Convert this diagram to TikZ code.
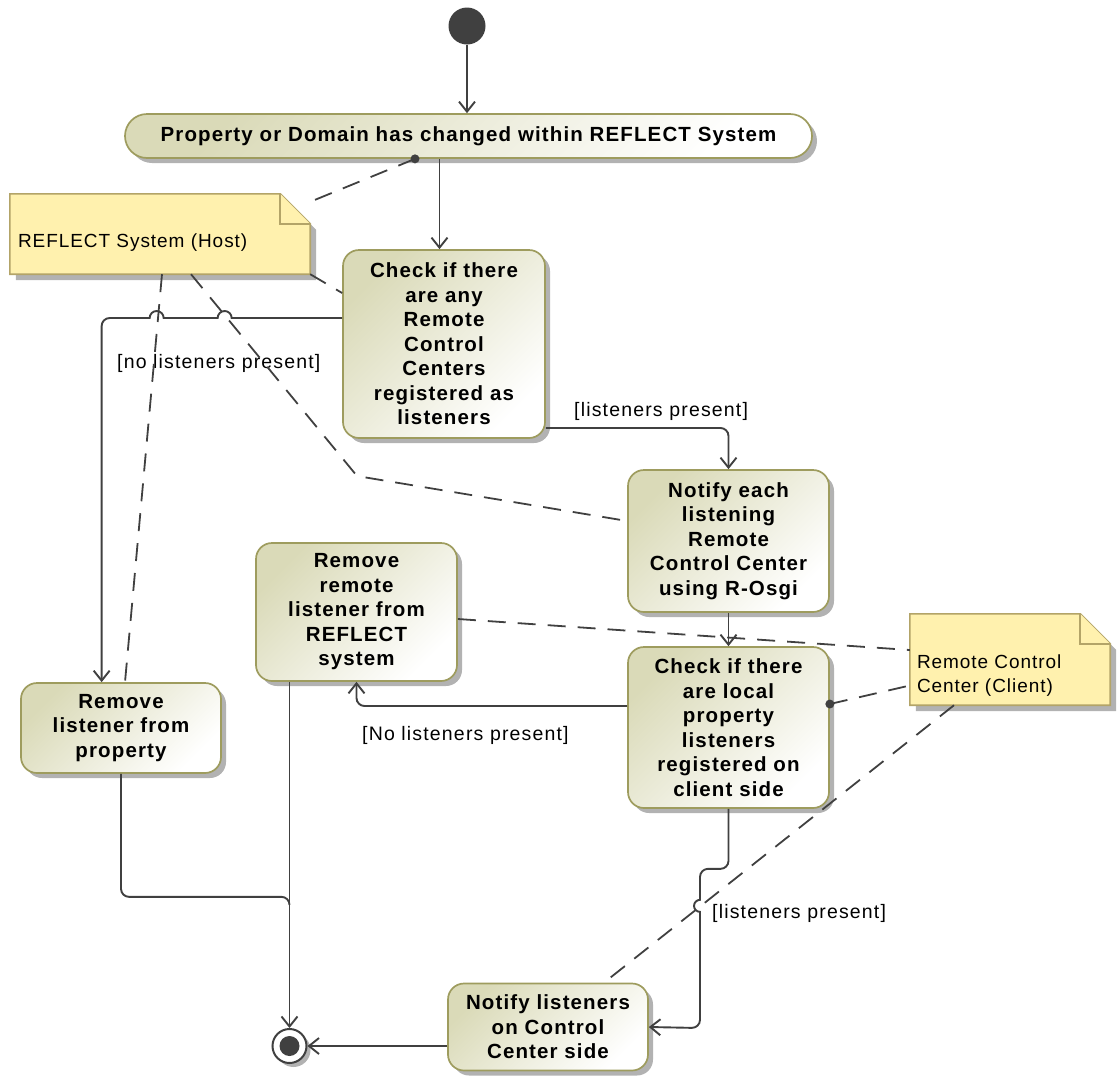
\documentclass[tikz,border=0pt]{standalone}
\usepackage{fontspec}
\setmainfont{Liberation Sans}
\usetikzlibrary{arrows.meta,shadows,calc}

\definecolor{actdark}{HTML}{DADAB8}
\definecolor{actborder}{HTML}{9E9C5E}
\definecolor{notefill}{HTML}{FFF1AE}
\definecolor{noteborder}{HTML}{B3A468}
\definecolor{linegray}{HTML}{404040}
\definecolor{shadowgray}{HTML}{B2B2B2}

\newcommand\actfont{\fontsize{20.5}{24.5}\selectfont\bfseries\addfontfeatures{LetterSpace=5.5}}
\newcommand\guardfont{\fontsize{19.5}{23}\selectfont\addfontfeatures{LetterSpace=6}}
\newcommand\notefont{\fontsize{19}{24}\selectfont\addfontfeatures{LetterSpace=5}}

\begin{document}
\begin{tikzpicture}[x=1pt,y=-1pt,
  act/.style={draw=actborder, line width=1.7pt, rounded corners=16pt,
    top color=actdark, bottom color=white, shading angle=45,
    align=center, font=\actfont, inner sep=0pt,
    drop shadow={shadow xshift=5pt, shadow yshift=-5pt, fill=shadowgray, opacity=1}},
  notebox/.style={inner sep=0pt, align=left, font=\notefont},
  notepaper/.style={fill=notefill, draw=noteborder, line width=1.6pt},
  flow/.style={draw=linegray, line width=1.9pt, -{Straight Barb[length=10pt,width=16pt]}},
  plainflow/.style={draw=linegray, line width=1.9pt},
  notelink/.style={draw=linegray, line width=1.8pt, dash pattern=on 18pt off 12pt},
  guard/.style={font=\guardfont, inner sep=0pt}
]
\useasboundingbox (0,0) rectangle (1117,1077);

% initial and final nodes
\node[circle, fill=linegray, minimum size=37pt, inner sep=0pt] (start) at (467,26) {};
\node[circle, draw=linegray, line width=2pt, fill=white, minimum size=34pt, inner sep=0pt,
  drop shadow={shadow xshift=4pt, shadow yshift=-4pt, fill=shadowgray, opacity=1}] (stop) at (289.5,1046) {};
\fill[linegray] (stop.center) circle (10pt);

% actions
\node[act, rounded corners=22pt, minimum width=687pt, minimum height=44pt] (A1) at (468.5,136)
  {Property or Domain has changed within REFLECT System};
\node[act, minimum width=202pt, minimum height=188pt] (C1) at (444,344)
  {Check if there\\are any\\Remote\\Control\\Centers\\registered as\\listeners};
\node[act, minimum width=201pt, minimum height=142pt] (N1) at (728.5,541)
  {Notify each\\listening\\Remote\\Control Center\\using R-Osgi};
\node[act, minimum width=201pt, minimum height=161pt] (C2) at (728.5,727.5)
  {Check if there\\are local\\property\\listeners\\registered on\\client side};
\node[act, minimum width=201pt, minimum height=138pt] (R2) at (356.5,612)
  {Remove\\remote\\listener from\\REFLECT\\system};
\node[act, minimum width=200pt, minimum height=90pt] (R1) at (121,728)
  {Remove\\listener from\\property};
\node[act, minimum width=200pt, minimum height=87pt] (N2) at (548,1027)
  {Notify listeners\\on Control\\Center side};

% notes with a folded corner
\node[notebox, minimum width=300pt, minimum height=80pt] (host) at (160,234) {};
\fill[shadowgray] ([shift={(6pt,-6pt)}]host.south west) -- ([shift={(6pt,-6pt)}]host.south east)
  -- ([shift={(6pt,-36pt)}]host.north east) -- ([shift={(-24pt,-6pt)}]host.north east) -- ([shift={(6pt,-6pt)}]host.north west) -- cycle;
\draw[notepaper] (host.south west) -- (host.north west)
  -- ([xshift=-30pt]host.north east) -- ([yshift=-30pt]host.north east) -- (host.south east) -- cycle;
\draw[notepaper] ([xshift=-30pt]host.north east)
  -- ([shift={(-30pt,-30pt)}]host.north east) -- ([yshift=-30pt]host.north east);
\node[notebox, anchor=west] (hosttext) at ([shift={(8pt,-9pt)}]host.west) {REFLECT System (Host)};

\node[notebox, minimum width=200pt, minimum height=91pt] (client) at (1010,659.5) {};
\fill[shadowgray] ([shift={(6pt,-6pt)}]client.south west) -- ([shift={(6pt,-6pt)}]client.south east)
  -- ([shift={(6pt,-36pt)}]client.north east) -- ([shift={(-24pt,-6pt)}]client.north east) -- ([shift={(6pt,-6pt)}]client.north west) -- cycle;
\draw[notepaper] (client.south west) -- (client.north west)
  -- ([xshift=-30pt]client.north east) -- ([yshift=-30pt]client.north east) -- (client.south east) -- cycle;
\draw[notepaper] ([xshift=-30pt]client.north east)
  -- ([shift={(-30pt,-30pt)}]client.north east) -- ([yshift=-30pt]client.north east);
\node[notebox, anchor=west] (clienttext)
  at ([shift={(7pt,-16pt)}]client.west) {Remote Control\\Center (Client)};

% control flows
\draw[flow] (start.south) -- (start.south |- A1.north);
\draw[flow] ([xshift=-29pt]A1.south) coordinate (a1out) -- (a1out |- C1.north);

\draw[flow] ([yshift=26pt]C1.west) -- ++(-110.5,0)
  arc[start angle=0, end angle=180, radius=7pt] -- ++(-54,0)
  arc[start angle=0, end angle=180, radius=7pt] -- ++(-40,0)
  arc[start angle=90, end angle=180, radius=8pt] coordinate (c1bend)
  -- (c1bend |- R1.north);
\node[guard, anchor=west] (g1) at (117,363) {[no listeners present]};

\draw[flow] ([yshift=-84pt]C1.east) coordinate (c1right) -- ([xshift=-8pt]c1right -| N1.north)
  arc[start angle=90, end angle=0, radius=8pt] -- (N1.north);
\node[guard, anchor=west] (g2) at (574,411) {[listeners present]};

\draw[flow] (N1.south) -- (C2.north);

\draw[flow] ([yshift=21.5pt]C2.west) coordinate (c2left) -- ([xshift=8pt]c2left -| R2.south)
  arc[start angle=270, end angle=180, radius=8pt] -- (R2.south);
\node[guard, anchor=west] (g3) at (362,735) {[No listeners present]};

\draw[flow] (C2.south) -- ++(0,52)
  arc[start angle=0, end angle=-90, radius=8pt] -- ++(-12.5,0)
  arc[start angle=90, end angle=180, radius=8pt] -- ++(0,23)
  arc[start angle=90, end angle=270, radius=6pt] -- ++(0,108)
  arc[start angle=0, end angle=-90, radius=8pt] -- (N2.east);
\node[guard, anchor=west] (g4) at (712,913) {[listeners present]};

\draw[plainflow] (R1.south) -- ++(0,115)
  arc[start angle=180, end angle=270, radius=8pt] coordinate (r1turn)
  -- ([xshift=-8pt]r1turn -| stop.north) arc[start angle=90, end angle=0, radius=8pt];
\draw[flow] (stop.north |- R2.south) -- (stop.north);
\draw[flow] (stop.east -| N2.west) -- (stop.east);

% anchors of the notes
\fill[linegray] ([xshift=-53.5pt]A1.south) coordinate (a1dot) circle (4.5pt);
\fill[linegray] ([yshift=23.5pt]C2.east) coordinate (c2dot) circle (4.5pt);
\coordinate (hostbend) at (357,476);

\draw[notelink] (a1dot) -- ([yshift=-8pt]host.north east);
\draw[notelink] (host.south east) -- ([yshift=51pt]C1.west);
\draw[notelink] ([xshift=2pt]host.south) -- ([xshift=4pt]R1.north);
\draw[notelink] ([xshift=31pt]host.south) -- (hostbend) -- ([yshift=20pt]N1.west);
\draw[notelink] ([yshift=-7pt]R2.east) -- ([yshift=9.5pt]client.west);
\draw[notelink] (c2dot) -- ([yshift=-26pt]client.west);
\draw[notelink] ([xshift=-56pt]client.south) -- ([xshift=56pt]N2.north);
\end{tikzpicture}
\end{document}
